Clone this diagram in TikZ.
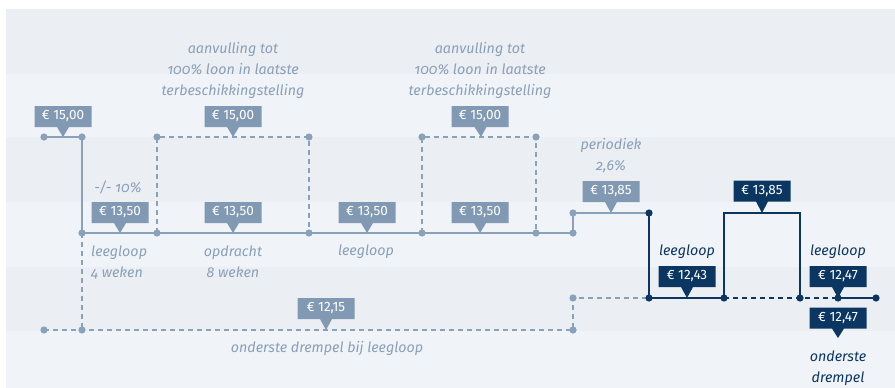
\documentclass[tikz,border=0pt]{standalone}
\usepackage{fontspec}
\setmainfont{Fira Sans}
\newfontfamily\itf[Numbers=OldStyle]{Fira Sans}
\usetikzlibrary{shapes.callouts}
\definecolor{bgA}{HTML}{EBEEF2}
\definecolor{bgB}{HTML}{F0F3F7}
\definecolor{lline}{HTML}{8AA1BA}
\definecolor{lbox}{HTML}{8199B3}
\definecolor{ltext}{HTML}{8AA0B8}
\definecolor{dark}{HTML}{0B3661}
\tikzset{
  lsolid/.style={draw=lline,line width=1.8pt},
  ldash/.style={draw=lline,line width=1.5pt,dash pattern=on 5pt off 4pt},
  dsolid/.style={draw=dark,line width=1.5pt},
  ddash/.style={draw=dark,line width=1.5pt,dash pattern=on 5pt off 4pt},
  ldot/.style={fill=lline},
  ddot/.style={fill=dark},
  tag/.style={rectangle callout,minimum width=57pt,minimum height=21pt,inner sep=0pt,
    callout pointer width=12pt,text=white,font=\fontsize{13.5}{15}\selectfont},
  ltag/.style={tag,fill=lbox},
  dtag/.style={tag,fill=dark},
  itxt/.style={font=\itf\itshape\fontsize{14.3}{21}\selectfont,text=ltext,align=center,inner sep=0pt},
  dtxt/.style={itxt,text=dark},
}
\begin{document}
\begin{tikzpicture}[x=1pt,y=-1pt]
\useasboundingbox (0,0) rectangle (895,388);
\fill[bgA] (6,9) rectangle (895,74);
\fill[bgB] (6,74) rectangle (895,137);
\fill[bgA] (6,137) rectangle (895,202);
\fill[bgB] (6,202) rectangle (895,267);
\fill[bgA] (6,267) rectangle (895,331);
\fill[bgB] (6,331) rectangle (895,388);
% points
\coordinate (a0) at (44,137);
\coordinate (a1) at (82,137);
\coordinate (b1) at (82,233);
\coordinate (b2) at (157,233);
\coordinate (b3) at (309,233);
\coordinate (b4) at (422,233);
\coordinate (b5) at (536,233);
\coordinate (b6) at (573,233);
\coordinate (c6) at (573,213);
\coordinate (c7) at (649,213);
\coordinate (u2) at (157,137);
\coordinate (u3) at (309,137);
\coordinate (u4) at (422,137);
\coordinate (u5) at (536,137);
\coordinate (f0) at (44,330);
\coordinate (f1) at (82,330);
\coordinate (f6) at (573,330);
\coordinate (g6) at (573,298);
\coordinate (g7) at (649,298);
\coordinate (g8) at (724,298);
\coordinate (h8) at (724,213);
\coordinate (h9) at (800,213);
\coordinate (g9) at (800,298);
\coordinate (g10) at (838,298);
\coordinate (g11) at (876,298);
% pointer tips
\coordinate (p1) at (63,137);
\coordinate (p2) at (233,137);
\coordinate (p3) at (481,137);
\coordinate (p4) at (120,233);
\coordinate (p5) at (233,233);
\coordinate (p6) at (367,233);
\coordinate (p7) at (480,233);
\coordinate (p8) at (611,213);
\coordinate (p9) at (326,330);
\coordinate (p10) at (762,213);
\coordinate (p11) at (687,298);
\coordinate (p12) at (838,298);
\coordinate (p13) at (838,338);
% lines
\draw[lsolid] (a0)--(a1)--(b1)--(b6)--(c6)--(c7);
\draw[ldash] (b1)--(f1);
\draw[ldash] (f0)--(f6)--(g6)--(g7);
\draw[ldash] (b2)--(u2)--(u3)--(b3);
\draw[ldash] (b4)--(u4)--(u5)--(b5);
\draw[dsolid] (c7)--(g7)--(g8)--(h8)--(h9)--(g9);
\draw[ddash] (g8)--(g10);
\draw[dsolid] (g10)--(g11);
% dots
\foreach \p in {a0,a1,b1,b2,b3,b4,b5,b6,c6,u2,u3,u4,u5,f0,f1,f6,g6}
  \fill[ldot] (\p) circle (3.6pt);
\foreach \p in {c7,g7,g8,g9,g10,g11}
  \fill[ddot] (\p) circle (3.6pt);
% tags
\node[ltag,callout absolute pointer={(p1)}] (t1) at (63,116.5) {€ 15,00};
\node[ltag,callout absolute pointer={(p2)}] (t2) at (233,116.5) {€ 15,00};
\node[ltag,callout absolute pointer={(p3)}] (t3) at (480,116.5) {€ 15,00};
\node[ltag,callout absolute pointer={(p4)}] (t4) at (120,212.5) {€ 13,50};
\node[ltag,callout absolute pointer={(p5)}] (t5) at (233,212.5) {€ 13,50};
\node[ltag,callout absolute pointer={(p6)}] (t6) at (367,212.5) {€ 13,50};
\node[ltag,callout absolute pointer={(p7)}] (t7) at (480,212.5) {€ 13,50};
\node[ltag,callout absolute pointer={(p8)}] (t8) at (611,191.5) {€ 13,85};
\node[ltag,callout absolute pointer={(p9)}] (t9) at (326,308.5) {€ 12,15};
\node[dtag,callout absolute pointer={(p10)}] (t10) at (762,191) {€ 13,85};
\node[dtag,callout absolute pointer={(p11)}] (t11) at (687,276.5) {€ 12,43};
\node[dtag,callout absolute pointer={(p12)}] (t12) at (838,276.5) {€ 12,47};
\node[dtag,callout absolute pointer={(p13)}] (t13) at (838,318) {€ 12,47};
% texts
\node[itxt] (x1) at (233,70) {aanvulling tot\\100\% loon in laatste\\terbeschikkingstelling};
\node[itxt] (x2) at (480,70) {aanvulling tot\\100\% loon in laatste\\terbeschikkingstelling};
\node[itxt] (x3) at (118,187) {-/- 10\%};
\node[itxt,align=left,anchor=west] (x4) at (91,262) {leegloop\\4 weken};
\node[itxt] (x5) at (233,262) {opdracht\\8 weken};
\node[itxt] (x6) at (366,252) {leegloop};
\node[itxt] (x7) at (327,348) {onderste drempel bij leegloop};
\node[itxt] (x8) at (611,156) {periodiek\\2,6\%};
\node[dtxt] (x9) at (687,252) {leegloop};
\node[dtxt] (x10) at (838,252) {leegloop};
\node[dtxt] (x11) at (838,368) {onderste\\drempel};
\end{tikzpicture}
\end{document}
